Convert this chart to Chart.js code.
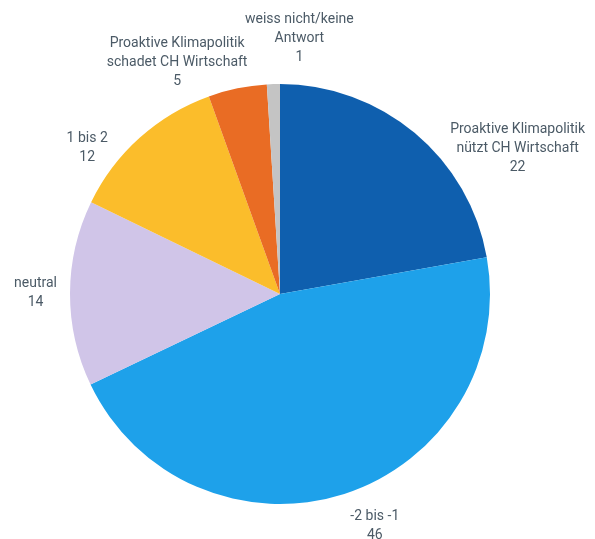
<!DOCTYPE html>
<html>
<head>
<meta charset="utf-8">
<script src="https://cdn.jsdelivr.net/npm/chart.js@4.4.1/dist/chart.umd.min.js"></script>
<style>
  html, body { margin: 0; padding: 0; background: #fff; }
  #wrap { width: 595px; height: 539px; }
</style>
</head>
<body>
<div id="wrap"><canvas id="pieChart" width="595" height="539"></canvas></div>
<script>
// data, clockwise from the top (shares in %, labels show them rounded)
const labels = [
  ['Proaktive Klimapolitik', 'nützt CH Wirtschaft'],
  ['-2 bis -1'],
  ['neutral'],
  ['1 bis 2'],
  ['Proaktive Klimapolitik', 'schadet CH Wirtschaft'],
  ['weiss nicht/keine', 'Antwort']
];
const values = [22.2, 45.7, 14.3, 12.3, 4.5, 1.0];
const colors = ['#0f5fae', '#1ea1ea', '#d0c5e8', '#fbbd2b', '#e96c24', '#c4c4c4'];

// little shifts so the labels sit where they do in the original
const labelNudge = [[53, 45], [20, 4], [-3, 0], [-32, 32], [-44, 12], [28, -7]];

const outsideLabels = {
  id: 'outsideLabels',
  afterDatasetsDraw(chart) {
    const ctx = chart.ctx;
    const meta = chart.getDatasetMeta(0);
    const lineH = 19;
    ctx.save();
    ctx.font = '14px Roboto, "Open Sans", sans-serif';
    ctx.fillStyle = '#4b5a66';
    ctx.textAlign = 'center';
    ctx.textBaseline = 'middle';
    meta.data.forEach((arc, i) => {
      const lines = labels[i].concat([String(Math.round(values[i]))]);
      const mid = (arc.startAngle + arc.endAngle) / 2;
      const r = arc.outerRadius + 10;
      const ax = arc.x + Math.cos(mid) * r;
      const ay = arc.y + Math.sin(mid) * r;
      const w = Math.max(...lines.map(l => ctx.measureText(l).width));
      const h = lines.length * lineH;
      const cx = ax + Math.cos(mid) * w / 2 + labelNudge[i][0];
      const cy = ay + Math.sin(mid) * h / 2 + labelNudge[i][1];
      lines.forEach((l, k) => {
        ctx.fillText(l, cx, cy - h / 2 + lineH / 2 + k * lineH);
      });
    });
    ctx.restore();
  }
};

const ctx = document.getElementById('pieChart').getContext('2d');
const pieChart = new Chart(ctx, {
  type: 'pie',
  data: {
    labels: labels.map(l => l.join(' ')),
    datasets: [{
      data: values,
      backgroundColor: colors,
      borderWidth: 0
    }]
  },
  options: {
    responsive: false,
    animation: false,
    layout: { padding: { left: 70, right: 105, top: 84, bottom: 35 } },
    plugins: {
      legend: { display: false },
      tooltip: { enabled: false }
    }
  },
  plugins: [outsideLabels]
});
</script>
</body>
</html>
